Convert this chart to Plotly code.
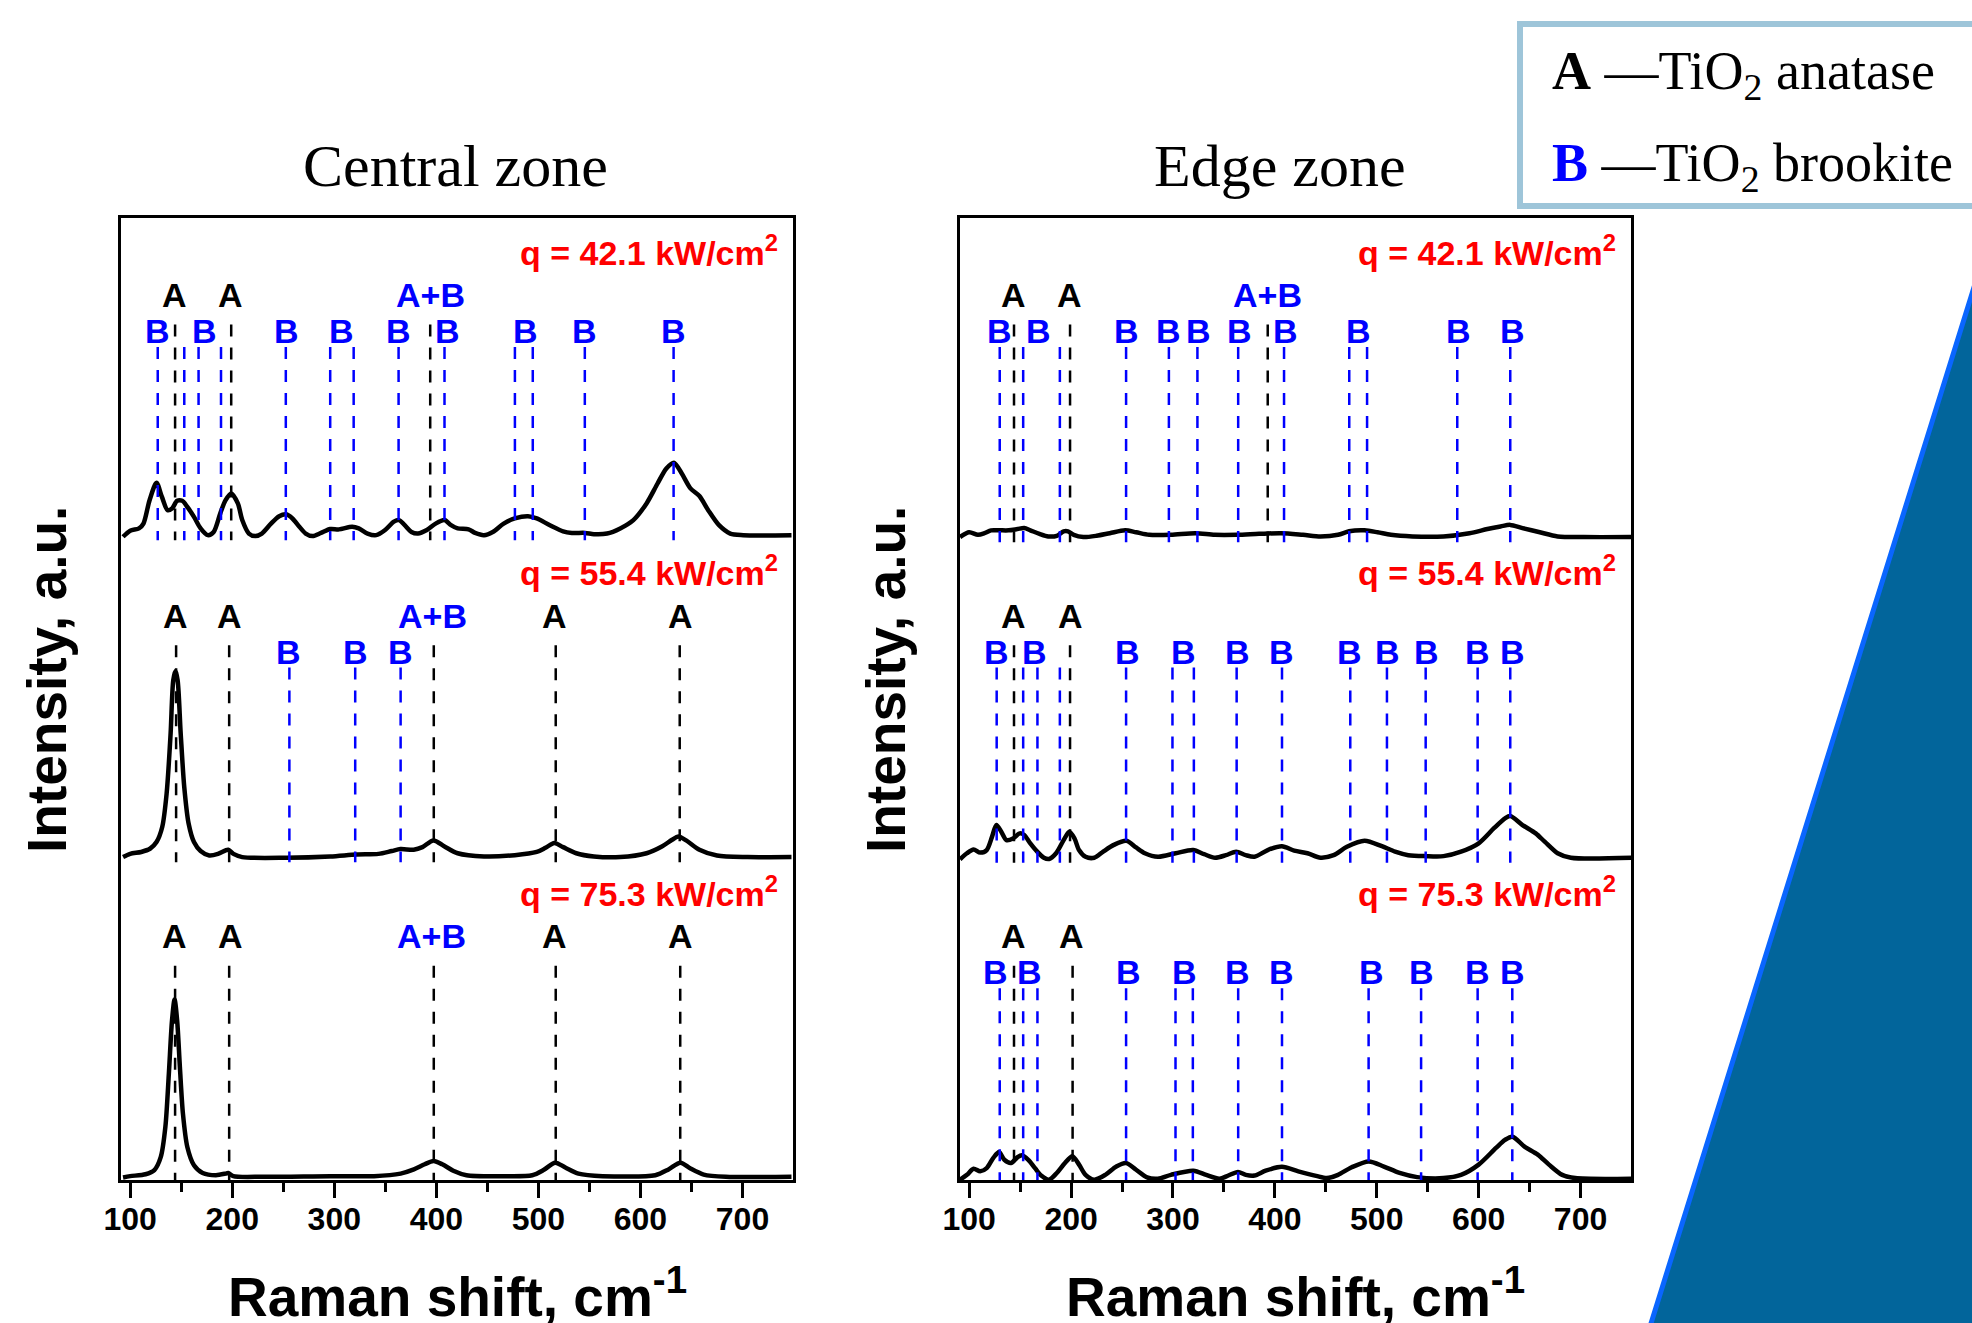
import plotly.graph_objects as go

W, H = 1972, 1323

# ---------------- spectra: Raman shift (cm-1) and intensity (a.u., panel spacing = 1) -------------
c42_x = [93, 100, 108.6, 113, 119, 125.8, 131, 136.6, 141, 146,
         151, 156, 162.5, 169, 176, 181.8, 188.3, 193.5, 199, 205.5,
         209.8, 216.3, 222.7, 229, 238, 246, 252.9, 259, 265.8, 272,
         278.7, 287, 296, 304.6, 317.5, 324, 332.6, 341, 349.8, 358.4,
         363.5, 369, 375.6, 382, 390.7, 399.3, 408, 414.4, 420.9, 431.6,
         438, 446.7, 455.3, 466, 476.9, 489.8, 498.4, 511.3, 524.2, 532.8,
         545.8, 554.4, 567.3, 580.2, 593.1, 606, 616.8, 625.4, 632.8, 640.5,
         649, 657.8, 666.4, 677, 688, 700.8, 748]
c42_y = [-0.005, 0.014, 0.021, 0.036, 0.109, 0.163, 0.120, 0.078, 0.083, 0.107,
         0.107, 0.088, 0.057, 0.021, 0.000, 0.010, 0.068, 0.109, 0.130, 0.099,
         0.047, 0.005, -0.003, 0.005, 0.036, 0.059, 0.065, 0.052, 0.026, 0.005,
         -0.003, 0.007, 0.019, 0.018, 0.026, 0.021, 0.005, 0.000, 0.016, 0.042,
         0.047, 0.031, 0.010, 0.005, 0.016, 0.036, 0.047, 0.031, 0.021, 0.018,
         0.007, 0.000, 0.010, 0.036, 0.052, 0.059, 0.052, 0.031, 0.012, 0.007,
         0.007, 0.003, 0.005, 0.021, 0.047, 0.099, 0.161, 0.208, 0.226, 0.192,
         0.146, 0.122, 0.078, 0.031, 0.005, 0.000, 0.000]

c55_x = [93, 100, 110.8, 119.4, 125.8, 131.4, 135.7, 139.6, 142.2, 144.4,
         146.5, 149.5, 153, 157.3, 162.5, 169, 177.5, 186, 193.5, 196,
         201.2, 209.8, 252.9, 296, 321.8, 343.3, 356.3, 364.9, 377.8, 386.4,
         397.2, 408, 420.9, 446.7, 476.9, 498.4, 507, 515.6, 524.2, 537.1,
         554.4, 580.2, 606, 621, 631, 637, 644.8, 657.8, 675, 705,
         748]
c55_y = [0.000, 0.010, 0.016, 0.026, 0.047, 0.094, 0.198, 0.385, 0.551, 0.580,
         0.551, 0.385, 0.218, 0.104, 0.047, 0.019, 0.005, 0.010, 0.021, 0.023,
         0.010, 0.000, -0.002, 0.002, 0.008, 0.010, 0.019, 0.025, 0.023, 0.031,
         0.052, 0.033, 0.012, 0.002, 0.006, 0.016, 0.029, 0.044, 0.031, 0.012,
         0.002, 0.000, 0.012, 0.033, 0.054, 0.064, 0.052, 0.023, 0.005, 0.000,
         0.000]

c75_x = [93, 100, 115, 123.7, 130, 134.5, 137.9, 141, 143.5, 146,
         148.7, 151.7, 156, 162.5, 171, 184, 193.5, 196, 201, 231,
         296, 339, 365, 378, 388.6, 397.2, 405.8, 416.6, 429.5, 468,
         494, 505, 516.5, 526.4, 539.3, 563, 614.6, 627.5, 639.2, 649,
         662, 683.6, 748]
c75_y = [-0.004, 0.000, 0.006, 0.019, 0.060, 0.154, 0.320, 0.486, 0.551, 0.486,
         0.341, 0.195, 0.091, 0.034, 0.010, 0.003, 0.008, 0.010, 0.000, -0.002,
         0.000, 0.000, 0.008, 0.021, 0.037, 0.047, 0.037, 0.017, 0.003, 0.000,
         0.003, 0.019, 0.042, 0.027, 0.008, 0.000, 0.003, 0.021, 0.042, 0.024,
         0.005, -0.002, -0.002]

e42_x = [91, 100, 108.6, 115, 121.5, 130, 138.8, 147.4, 154, 160,
         169, 177.6, 186, 192.7, 197, 202.6, 212, 225, 238, 253,
         263.8, 276.7, 298, 322, 341, 363, 384.5, 406, 427.6, 444.8,
         462, 472.8, 488, 500.8, 513.8, 535, 565.5, 591, 608.6, 621.5,
         631, 643, 660, 677.5, 703, 750]
e42_y = [0.000, 0.015, 0.007, 0.012, 0.021, 0.021, 0.021, 0.025, 0.028, 0.021,
         0.010, 0.002, 0.004, 0.018, 0.018, 0.007, 0.000, 0.004, 0.012, 0.021,
         0.015, 0.007, 0.007, 0.012, 0.007, 0.007, 0.010, 0.012, 0.007, 0.002,
         0.007, 0.018, 0.021, 0.015, 0.007, 0.002, 0.002, 0.012, 0.025, 0.033,
         0.038, 0.028, 0.015, 0.002, 0.000, 0.000]

e55_x = [91, 97.8, 104.3, 110.8, 117.2, 122.4, 126.7, 131.5, 136.6, 143,
         149.6, 154, 160, 166.8, 173.3, 178.4, 185.3, 192.7, 198.3, 203.4,
         207.8, 214.2, 222.8, 231.5, 242, 254.3, 263.8, 272.4, 285.3, 302.6,
         319.8, 330.6, 341.4, 352, 362, 371.5, 380, 393, 406.9, 419,
         432, 444.8, 457.7, 470.7, 488, 505, 518, 531, 548, 565.5,
         582.7, 600, 615, 625.8, 631, 643, 656, 664.8, 677.5, 690.5,
         750]
e55_y = [-0.005, 0.014, 0.026, 0.016, 0.024, 0.065, 0.102, 0.081, 0.055, 0.060,
         0.076, 0.071, 0.045, 0.019, 0.000, -0.004, 0.014, 0.055, 0.081, 0.060,
         0.024, 0.003, 0.000, 0.019, 0.040, 0.053, 0.032, 0.014, 0.003, 0.014,
         0.024, 0.011, 0.000, 0.008, 0.019, 0.008, 0.003, 0.024, 0.036, 0.022,
         0.014, 0.000, 0.008, 0.034, 0.053, 0.036, 0.019, 0.008, 0.005, 0.005,
         0.019, 0.045, 0.092, 0.123, 0.130, 0.102, 0.076, 0.050, 0.014, 0.000,
         0.000]

e75_x = [91, 97.8, 104.3, 110.8, 117.2, 123.7, 129.3, 134.5, 141, 147.4,
         151.7, 158, 164.6, 171, 178.4, 186, 194, 201.3, 207.8, 214.2,
         222.8, 233.6, 244.4, 253.9, 263.8, 274.6, 285.3, 298, 320, 332.6,
         345.6, 354.3, 363.8, 371.5, 380, 391, 406.9, 423, 440.5, 451,
         462, 475, 492.2, 507, 522.4, 539.6, 565.5, 582.7, 600, 617,
         625.8, 633.2, 645, 658, 669, 682, 694.8, 750]
e75_y = [-0.003, 0.012, 0.031, 0.023, 0.033, 0.065, 0.083, 0.059, 0.049, 0.067,
         0.073, 0.059, 0.033, 0.009, -0.003, 0.018, 0.049, 0.070, 0.044, 0.012,
         -0.003, 0.012, 0.038, 0.049, 0.028, 0.004, 0.000, 0.012, 0.025, 0.012,
         0.000, 0.010, 0.021, 0.012, 0.010, 0.025, 0.037, 0.023, 0.009, 0.002,
         0.012, 0.035, 0.054, 0.038, 0.018, 0.005, 0.002, 0.012, 0.044, 0.096,
         0.121, 0.131, 0.100, 0.075, 0.044, 0.012, 0.002, 0.000]

# ---------------- peak assignments (cm-1) ----------------
c42_a_lines = [144, 199, 394]
c42_b_lines = [127, 153, 167, 189, 252.5, 296, 319, 363, 408, 477, 494.5, 545.5, 632.5]
c42_a_labels = [143, 198]
c42_b_labels = [126.7, 173, 253, 307.5, 362.7, 411, 487.5, 545.3, 632.4]
c42_ab_label = 394

c55_a_lines = [145, 197, 397.5, 517, 638.5]
c55_b_lines = [256, 320.5, 365]
c55_a_labels = [144.5, 197, 516.2, 638.8]
c55_b_labels = [255, 320.5, 365]
c55_ab_label = 396

c75_a_lines = [144, 197, 397.5, 517, 639]
c75_b_lines = []
c75_a_labels = [143, 198, 516, 638.8]
c75_b_labels = []
c75_ab_label = 395

e42_a_lines = [144, 199, 393]
e42_b_lines = [130, 153, 189, 254, 296, 324, 364, 409, 473, 490.5, 579, 631]
e42_a_labels = [143.1, 198.3]
e42_b_labels = [129.3, 168.1, 254.3, 296.1, 325, 365, 410.3, 482.3, 580.6, 633.2]
e42_ab_label = 393

e55_a_lines = [144, 199]
e55_b_lines = [127, 153, 167, 189, 254, 299.5, 320.5, 362.5, 407, 474, 510, 548, 599, 631]
e55_a_labels = [143.1, 199.1]
e55_b_labels = [127.2, 163.8, 255.2, 310.3, 362.9, 406.9, 472.8, 510.3, 549.1, 598.7, 633.2]
e55_ab_label = None

e75_a_lines = [144, 201.5]
e75_b_lines = [130, 153, 167, 254, 302.5, 319.5, 364, 407, 492, 543.5, 599, 633]
e75_a_labels = [143.1, 200]
e75_b_labels = [125.9, 159.5, 256, 311.2, 363.8, 406.9, 494.4, 543.9, 598.7, 633.2]
e75_ab_label = None

heat_flux = ["42.1", "55.4", "75.3"]
zone_titles = ["Central zone", "Edge zone"]

# ---------------- layout constants ----------------
BLUE = "#0000FF"
RED = "#FF0000"
SANS = "Liberation Sans, Arial, Helvetica, sans-serif"
SERIF = "Liberation Serif, Times New Roman, serif"

XRANGE = [91, 749.5]
YRANGE = [0, 3.0]
XDOM = [[121 / W, 793 / W], [960 / W, 1631 / W]]
YDOM = [1 - 1180 / H, 1 - 218 / H]
ZONE_TITLE_X = [455 / W, 1280 / W]

A_LABEL, B_LABEL, A_TOP, B_TOP, Q_LABEL = 0.760, 0.648, 0.668, 0.598, 0.900

panels = [
    dict(xref="x", yref="y", offsets=[2.011, 1.007, 0.012],
         spectra=[(c42_x, c42_y), (c55_x, c55_y), (c75_x, c75_y)],
         marks=[(c42_a_lines, c42_b_lines, c42_a_labels, c42_b_labels, c42_ab_label),
                (c55_a_lines, c55_b_lines, c55_a_labels, c55_b_labels, c55_ab_label),
                (c75_a_lines, c75_b_lines, c75_a_labels, c75_b_labels, c75_ab_label)]),
    dict(xref="x2", yref="y2", offsets=[2.005, 1.005, 0.004],
         spectra=[(e42_x, e42_y), (e55_x, e55_y), (e75_x, e75_y)],
         marks=[(e42_a_lines, e42_b_lines, e42_a_labels, e42_b_labels, e42_ab_label),
                (e55_a_lines, e55_b_lines, e55_a_labels, e55_b_labels, e55_ab_label),
                (e75_a_lines, e75_b_lines, e75_a_labels, e75_b_labels, e75_ab_label)]),
]

fig = go.Figure()
annotations = []

for p in panels:
    for i, ((sx, sy), off, marks, q) in enumerate(zip(p["spectra"], p["offsets"], p["marks"], heat_flux)):
        k = 2 - i
        fig.add_trace(go.Scatter(x=sx, y=[v + off for v in sy], mode="lines",
                                 line=dict(color="black", width=4.5, shape="spline", smoothing=0.8),
                                 xaxis=p["xref"], yaxis=p["yref"], hoverinfo="skip"))
        a_lines, b_lines, a_labels, b_labels, ab_label = marks
        bottom = max(off - 0.016, 0.0)
        for lines, top, color in ((b_lines, k + B_TOP, BLUE), (a_lines, k + A_TOP, "black")):
            xs, ys = [], []
            for xv in lines:
                xs += [xv, xv, None]
                ys += [top, bottom, None]
            if xs:
                fig.add_trace(go.Scatter(x=xs, y=ys, mode="lines",
                                         line=dict(color=color, width=2.5, dash="12px,11px"),
                                         xaxis=p["xref"], yaxis=p["yref"], hoverinfo="skip"))
        for xv in a_labels:
            annotations.append(dict(x=xv, y=k + A_LABEL, xref=p["xref"], yref=p["yref"],
                                    text="<b>A</b>", showarrow=False, xanchor="center", yanchor="middle",
                                    font=dict(family=SANS, size=34, color="black")))
        for xv in b_labels:
            annotations.append(dict(x=xv, y=k + B_LABEL, xref=p["xref"], yref=p["yref"],
                                    text="<b>B</b>", showarrow=False, xanchor="center", yanchor="middle",
                                    font=dict(family=SANS, size=34, color=BLUE)))
        if ab_label is not None:
            annotations.append(dict(x=ab_label, y=k + A_LABEL, xref=p["xref"], yref=p["yref"],
                                    text="<b>A+B</b>", showarrow=False, xanchor="center", yanchor="middle",
                                    font=dict(family=SANS, size=34, color=BLUE)))
        annotations.append(dict(x=737, y=k + Q_LABEL, xref=p["xref"], yref=p["yref"],
                                text="<b>q = %s kW/cm<sup>2</sup></b>" % q, showarrow=False,
                                xanchor="right", yanchor="middle",
                                font=dict(family=SANS, size=34, color=RED)))

# axis titles and zone titles (paper coordinates)
for j, (x0, x1) in enumerate(XDOM):
    cx = (x0 + x1) / 2
    annotations.append(dict(x=cx, y=1 - 1293 / H, xref="paper", yref="paper",
                            text="<b>Raman shift, cm<sup>-1</sup></b>", showarrow=False,
                            xanchor="center", yanchor="middle",
                            font=dict(family=SANS, size=55, color="black")))
    annotations.append(dict(x=x0 - 74 / W, y=1 - 680 / H, xref="paper", yref="paper",
                            text="<b>Intensity, a.u.</b>", showarrow=False, textangle=-90,
                            xanchor="center", yanchor="middle",
                            font=dict(family=SANS, size=55, color="black")))
    annotations.append(dict(x=ZONE_TITLE_X[j], y=1 - 166 / H, xref="paper", yref="paper",
                            text=zone_titles[j], showarrow=False,
                            xanchor="center", yanchor="middle",
                            font=dict(family=SERIF, size=60, color="black")))

# phase legend box
annotations.append(dict(x=1550 / W, y=1 - 75 / H, xref="paper", yref="paper",
                        text="<b>A</b> \u2014TiO<sub>2</sub> anatase", showarrow=False,
                        xanchor="left", yanchor="middle",
                        font=dict(family=SERIF, size=54, color="black")))
annotations.append(dict(x=1550 / W, y=1 - 166 / H, xref="paper", yref="paper",
                        text="<span style='color:#0000FF'><b>B</b></span> \u2014TiO<sub>2</sub> brookite",
                        showarrow=False, xanchor="left", yanchor="middle",
                        font=dict(family=SERIF, size=54, color="black")))

shapes = [
    dict(type="rect", xref="paper", yref="paper", x0=1520 / W, x1=1.02, y0=1 - 206 / H, y1=1 - 24 / H,
         line=dict(color="#9EC5D9", width=6), fillcolor="white", layer="below"),
    dict(type="path", xref="paper", yref="paper",
         path="M 1.002,%f L %f,-0.01 L 1.02,-0.01 Z" % (1 - 281 / H, 1647 / W),
         fillcolor="#02659B", line=dict(color="#0A66FF", width=5), layer="above"),
]

axis_common = dict(showline=True, linewidth=3, linecolor="black", mirror=True,
                   showgrid=False, zeroline=False, automargin=False)
xcommon = dict(axis_common, range=XRANGE, ticks="outside", ticklen=15, tickwidth=3, tickcolor="black",
               tick0=100, dtick=100, ticklabelstandoff=-6,
               tickfont=dict(family=SANS, size=32, color="black", weight="bold"),
               minor=dict(ticks="outside", ticklen=9, tickwidth=3, tickcolor="black", dtick=50, tick0=50,
                          showgrid=False))
ycommon = dict(axis_common, range=YRANGE, ticks="", showticklabels=False)

fig.update_layout(
    width=W, height=H, margin=dict(l=0, r=0, t=0, b=0, pad=0, autoexpand=False),
    paper_bgcolor="white", plot_bgcolor="white", showlegend=False,
    xaxis=dict(xcommon, domain=XDOM[0], anchor="y"),
    yaxis=dict(ycommon, domain=YDOM, anchor="x"),
    xaxis2=dict(xcommon, domain=XDOM[1], anchor="y2"),
    yaxis2=dict(ycommon, domain=YDOM, anchor="x2"),
    annotations=annotations, shapes=shapes,
)

fig.write_html("out.html", config={"displayModeBar": False},
               post_script="document.body.style.margin='0px';document.body.style.overflow='hidden';")
